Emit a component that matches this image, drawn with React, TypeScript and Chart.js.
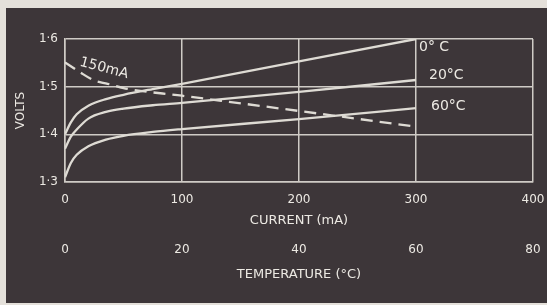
import React, { useEffect, useRef } from "react";
import { Chart, registerables } from "chart.js";

Chart.register(...registerables);

// ---- data ----
const currentMA = [0, 5, 10, 20, 35, 50, 75, 100, 200, 300];
const volts0C = [1.4, 1.425, 1.442, 1.46, 1.474, 1.483, 1.495, 1.506, 1.553, 1.6];
const volts20C = [1.37, 1.395, 1.41, 1.433, 1.447, 1.454, 1.461, 1.466, 1.489, 1.514];
const volts60C = [1.31, 1.34, 1.357, 1.375, 1.389, 1.397, 1.405, 1.411, 1.432, 1.455];

const temperatureC = [0, 2.6, 5, 7.3, 10, 20, 40, 60];
const volts150mA = [1.551, 1.53, 1.513, 1.506, 1.497, 1.481, 1.449, 1.416];

const seriesNames = ["0° C", "20°C", "60°C", "150mA"];
const voltTicks = [1.3, 1.4, 1.5, 1.6];
const voltTickLabels = ["1·3", "1·4", "1·5", "1·6"];
const currentTicks = [0, 100, 200, 300, 400];
const temperatureTicks = [0, 20, 40, 60, 80];

// ---- style ----
const DARK = "#3d3639";
const LIGHT = "#e4e0da";
const LINE = "#dedbd4";
const GRID = "#cfcbc6";
const TEXT = "#ece9e3";
const FONT = "'DejaVu Sans', sans-serif";

// label placement relative to the anchor point of each series (pixels)
const labelStyle = [
  { anchor: "last", dx: 3, dy: 8, rot: 0 },
  { anchor: "last", dx: 13, dy: -5, rot: 0 },
  { anchor: "last", dx: 15, dy: -2, rot: 0 },
  { anchor: "first", dx: 39, dy: 6, rot: 15 },
];

const backgroundPlugin = {
  id: "bg",
  beforeDraw(chart: any) {
    const { ctx, width, height } = chart;
    ctx.save();
    ctx.fillStyle = LIGHT;
    ctx.fillRect(0, 0, width, height);
    ctx.fillStyle = DARK;
    ctx.fillRect(6, 8, width - 6, height - 10);
    ctx.restore();
  },
};

const seriesLabelPlugin = {
  id: "seriesLabels",
  afterDatasetsDraw(chart: any) {
    const { ctx } = chart;
    ctx.save();
    ctx.fillStyle = TEXT;
    ctx.font = `14px ${FONT}`;
    ctx.textBaseline = "middle";
    chart.data.datasets.forEach((ds: any, i: number) => {
      const meta = chart.getDatasetMeta(i);
      const st = labelStyle[i];
      const pts = meta.data;
      const p = st.anchor === "last" ? pts[pts.length - 1] : pts[0];
      if (!p) return;
      ctx.save();
      if (st.rot) {
        ctx.textAlign = "center";
        ctx.translate(p.x + st.dx, p.y + st.dy);
        ctx.rotate((st.rot * Math.PI) / 180);
        ctx.fillText(ds.label, 0, 0);
      } else {
        ctx.textAlign = "left";
        ctx.fillText(ds.label, p.x + st.dx, p.y + st.dy);
      }
      ctx.restore();
    });
    ctx.restore();
  },
};

export default function App() {
  const ref = useRef<HTMLCanvasElement | null>(null);

  useEffect(() => {
    document.body.style.margin = "0";
    const canvas = ref.current;
    if (!canvas) return;

    const lineOpts = {
      borderColor: LINE,
      borderWidth: 2.3,
      pointRadius: 0,
      fill: false,
      cubicInterpolationMode: "monotone" as const,
    };

    const chart = new Chart(canvas, {
      type: "line",
      data: {
        datasets: [
          { ...lineOpts, label: seriesNames[0], data: currentMA.map((x, i) => ({ x, y: volts0C[i] })), xAxisID: "x" },
          { ...lineOpts, label: seriesNames[1], data: currentMA.map((x, i) => ({ x, y: volts20C[i] })), xAxisID: "x" },
          { ...lineOpts, label: seriesNames[2], data: currentMA.map((x, i) => ({ x, y: volts60C[i] })), xAxisID: "x" },
          {
            ...lineOpts,
            label: seriesNames[3],
            data: temperatureC.map((x, i) => ({ x, y: volts150mA[i] })),
            xAxisID: "x2",
            borderDash: [12, 7],
          },
        ],
      },
      options: {
        animation: false,
        responsive: false,
        events: [],
        layout: { padding: { left: 0, top: 39, right: 14, bottom: 11 } },
        plugins: { legend: { display: false }, tooltip: { enabled: false } },
        scales: {
          x: {
            type: "linear",
            position: "bottom",
            min: 0,
            max: 400,
            afterBuildTicks: (s: any) => {
              s.ticks = currentTicks.map((v) => ({ value: v }));
            },
            ticks: { color: TEXT, font: { family: FONT, size: 12 }, padding: 11, maxRotation: 0, autoSkip: false },
            grid: { color: GRID, lineWidth: 1.5, drawTicks: false },
            border: { color: GRID, width: 1.5 },
            title: {
              display: true,
              text: "CURRENT (mA)",
              color: TEXT,
              font: { family: FONT, size: 13 },
              padding: { top: 0, bottom: 4 },
            },
            afterFit: (s: any) => {
              s.height = 50;
              s.paddingLeft = 0;
              s.paddingRight = 0;
            },
          },
          x2: {
            type: "linear",
            position: "bottom",
            min: 0,
            max: 80,
            afterBuildTicks: (s: any) => {
              s.ticks = temperatureTicks.map((v) => ({ value: v }));
            },
            ticks: { color: TEXT, font: { family: FONT, size: 12 }, padding: 11, maxRotation: 0, autoSkip: false },
            grid: { display: false, drawTicks: false },
            border: { display: false },
            title: {
              display: true,
              text: "TEMPERATURE (°C)",
              color: TEXT,
              font: { family: FONT, size: 13 },
              padding: { top: 0, bottom: 12 },
            },
            afterFit: (s: any) => {
              s.height = 62;
              s.paddingLeft = 0;
              s.paddingRight = 0;
            },
          },
          y: {
            type: "linear",
            min: 1.3,
            max: 1.6,
            afterBuildTicks: (s: any) => {
              s.ticks = voltTicks.map((v) => ({ value: v }));
            },
            ticks: {
              color: TEXT,
              font: { family: FONT, size: 12 },
              padding: 7,
              callback: (_v: any, i: number) => voltTickLabels[i],
            },
            grid: { color: GRID, lineWidth: 1.5, drawTicks: false },
            border: { color: GRID, width: 1.5 },
            title: {
              display: true,
              text: "VOLTS",
              color: TEXT,
              font: { family: FONT, size: 12 },
              padding: { top: 14, bottom: 0 },
            },
            afterFit: (s: any) => {
              s.width = 65;
              s.paddingTop = 0;
              s.paddingBottom = 0;
            },
          },
        },
      },
      plugins: [backgroundPlugin, seriesLabelPlugin],
    });

    return () => chart.destroy();
  }, []);

  return <canvas ref={ref} width={547} height={305} style={{ display: "block" }} />;
}
